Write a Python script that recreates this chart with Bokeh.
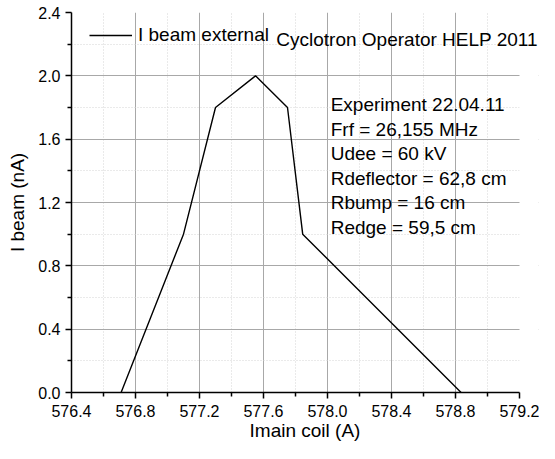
from bokeh.plotting import figure
from bokeh.models import Range1d, FixedTicker, Label, Legend, LegendItem, BoxAnnotation
from bokeh.embed import file_html
from bokeh.resources import INLINE

# data
imain_coil = [576.71, 577.10, 577.30, 577.55, 577.75, 577.845, 578.835]
i_beam = [0.0, 1.0, 1.8, 2.0, 1.8, 1.0, 0.0]

x_major = [576.4, 576.8, 577.2, 577.6, 578.0, 578.4, 578.8, 579.2]
x_minor = [576.6, 577.0, 577.4, 577.8, 578.2, 578.6, 579.0]
y_major = [0.0, 0.4, 0.8, 1.2, 1.6, 2.0, 2.4]
y_minor = [0.2, 0.6, 1.0, 1.4, 1.8, 2.2]

title_text = "Cyclotron Operator HELP 2011"
legend_text = "I beam external"
info_lines = [
    "Experiment 22.04.11",
    "Frf = 26,155 MHz",
    "Udee = 60 kV",
    "Rdeflector = 62,8 cm",
    "Rbump = 16 cm",
    "Redge = 59,5 cm",
]

FONT = "Liberation Sans"
X_START, X_END = x_major[0], x_major[-1]
# the frame is a little wider than the axis so that the top-right text is not clipped
X_VIEW_END = X_START + (X_END - X_START) * 467 / 448

p = figure(width=539, height=443,
           x_range=Range1d(X_START, X_VIEW_END), y_range=Range1d(0.0, 2.4),
           output_backend="svg", toolbar_location=None,
           min_border_left=71, min_border_right=1,
           min_border_top=12, min_border_bottom=49)
p.outline_line_color = None
p.background_fill_color = "white"
p.border_fill_color = "white"

# axes
p.xaxis.ticker = FixedTicker(ticks=x_major, minor_ticks=x_minor)
p.yaxis.ticker = FixedTicker(ticks=y_major, minor_ticks=y_minor)
p.xaxis.bounds = (X_START, X_END)
p.xaxis.major_label_overrides = {v: f"{v:.1f}" for v in x_major}
p.yaxis.major_label_overrides = {v: f"{v:.1f}" for v in y_major}
p.xaxis.axis_label = "Imain coil (A)"
p.yaxis.axis_label = "I beam (nA)"
for ax in (p.xaxis, p.yaxis):
    ax.axis_line_color = "black"
    ax.axis_line_width = 1.5
    ax.major_tick_line_color = "black"
    ax.minor_tick_line_color = "black"
    ax.major_tick_line_width = 1.5
    ax.minor_tick_line_width = 1.5
    ax.major_tick_in = 0
    ax.major_tick_out = 6
    ax.minor_tick_in = 0
    ax.minor_tick_out = 4
    ax.major_label_text_font = FONT
    ax.major_label_text_font_size = "16px"
    ax.major_label_text_color = "black"
    ax.axis_label_text_font = FONT
    ax.axis_label_text_font_size = "19px"
    ax.axis_label_text_font_style = "normal"
    ax.axis_label_text_color = "black"
p.xaxis.major_label_standoff = 6
p.xaxis.axis_label_standoff = 0
p.yaxis.major_label_standoff = 5
p.yaxis.axis_label_standoff = 7

# grids
p.xgrid.ticker = FixedTicker(ticks=x_major[:-1], minor_ticks=x_minor)
p.ygrid.ticker = FixedTicker(ticks=y_major[:-1], minor_ticks=y_minor)
for g in (p.xgrid, p.ygrid):
    g.grid_line_color = "#a8a8a8"
    g.grid_line_width = 1
    g.minor_grid_line_color = "#d4d4d4"
    g.minor_grid_line_dash = "1 2"
    g.minor_grid_line_width = 1

# hide the grid lines beyond the end of the x axis
p.add_layout(BoxAnnotation(left=X_END, fill_color="white", fill_alpha=1.0,
                           line_color=None, level="underlay"))

r = p.line(imain_coil, i_beam, line_color="black", line_width=1.4)

legend = Legend(items=[LegendItem(label=legend_text, renderers=[r])],
                location=(18, 346), padding=0, margin=0, spacing=0,
                glyph_width=43, glyph_height=20, label_height=20,
                label_standoff=6, border_line_color=None,
                background_fill_alpha=0,
                label_text_font=FONT, label_text_font_size="19px",
                label_text_color="black")
p.add_layout(legend)

p.add_layout(Label(x=577.68, y=2.229, text=title_text, text_font=FONT,
                   text_font_size="19px", text_color="black",
                   text_baseline="alphabetic"))

info_y = [1.816, 1.662, 1.508, 1.353, 1.199, 1.045]
for txt, yy in zip(info_lines, info_y):
    p.add_layout(Label(x=578.02, y=yy, text=txt, text_font=FONT,
                       text_font_size="19px", text_color="black",
                       text_baseline="alphabetic"))

open("out.html", "w").write(file_html(p, INLINE))
